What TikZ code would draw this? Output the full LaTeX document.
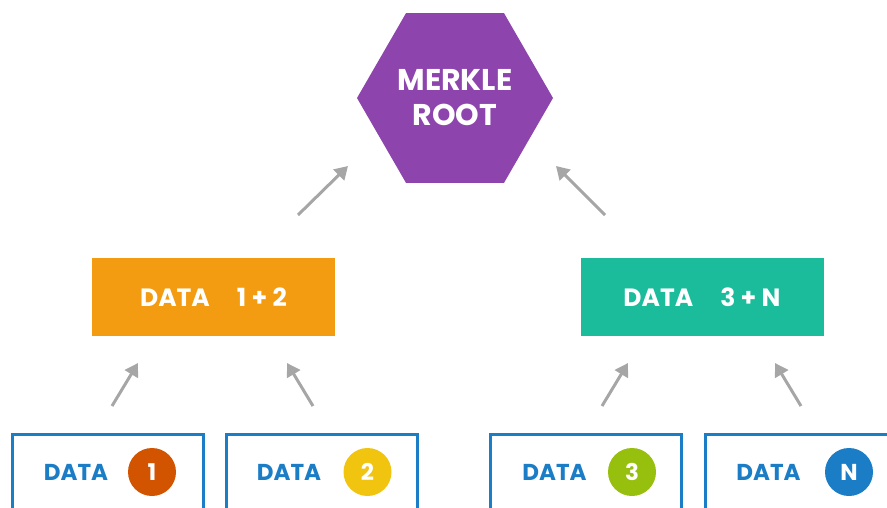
\documentclass[tikz,border=0pt]{standalone}
\usepackage{fontspec}
\setmainfont{Poppins}
\usetikzlibrary{shapes.geometric,arrows.meta}

\definecolor{rootpurple}{HTML}{8E44AD}
\definecolor{pairorange}{HTML}{F39C12}
\definecolor{pairteal}{HTML}{1ABC9C}
\definecolor{leafblue}{HTML}{1A7DC6}
\definecolor{onered}{HTML}{D35400}
\definecolor{twoyellow}{HTML}{F1C40F}
\definecolor{threegreen}{HTML}{97BF0D}
\definecolor{arrowgray}{HTML}{A6A6A6}

\begin{document}
\begin{tikzpicture}[x=1pt,y=-1pt,
        hashbox/.style={minimum width=243pt, minimum height=78pt, inner sep=0pt, text=white, font=\bfseries\fontsize{25}{30}\selectfont},
        leafbox/.style={draw=leafblue, line width=3pt, minimum width=191pt, minimum height=100pt},
        leaftext/.style={text=leafblue, inner sep=0pt, font=\bfseries\fontsize{23}{28}\selectfont},
        num/.style={circle, minimum size=48pt, inner sep=0pt, text=white, font=\bfseries\fontsize{23}{28}\selectfont},
        arr/.style={draw=arrowgray, line width=3pt, -{Triangle[length=13pt,width=15pt]}}]
        \clip (0,0) rectangle (887,507);

        % Root
        \node at (455,98) [regular polygon, regular polygon sides=6, minimum size=196pt, inner sep=0pt, fill=rootpurple, text=white, align=center, font=\bfseries\fontsize{30}{35}\selectfont] (R) {MERKLE\\ROOT};

        % Pairs
        \node at (213.5,297) [hashbox, fill=pairorange] (P12) {DATA\hspace{27pt}1 + 2};
        \node at (702,297) [hashbox, fill=pairteal] (P3N) {DATA\hspace{27pt}3 + N};

        % Leaves
        \node at (108,484.5) [leafbox] (L1) {};
        \node at (321.5,484.5) [leafbox] (L2) {};
        \node at (585.5,484.5) [leafbox] (L3) {};
        \node at (800.5,484.5) [leafbox] (L4) {};

        \node at (76,472) [leaftext] (T1) {DATA};
        \node at (289,472) [leaftext] (T2) {DATA};
        \node at (554.5,472) [leaftext] (T3) {DATA};
        \node at (768.5,472) [leaftext] (T4) {DATA};

        \node at (152,472) [num, fill=onered] (N1) {1};
        \node at (367.5,472) [num, fill=twoyellow] (N2) {2};
        \node at (632,472) [num, fill=threegreen] (N3) {3};
        \node at (849,472) [num, fill=leafblue] (N4) {N};

        % Arrow ends
        \coordinate (a1) at (112,406);  \coordinate (b1) at (138,363);
        \coordinate (a2) at (313,406);  \coordinate (b2) at (287,363);
        \coordinate (a3) at (602,406);  \coordinate (b3) at (628,363);
        \coordinate (a4) at (801,406);  \coordinate (b4) at (775,363);
        \coordinate (a5) at (298,215);  \coordinate (b5) at (348,166);
        \coordinate (a6) at (605,215);  \coordinate (b6) at (556,166);

        % Arrows
        \draw[arr] (a1) -- (b1);
        \draw[arr] (a2) -- (b2);
        \draw[arr] (a3) -- (b3);
        \draw[arr] (a4) -- (b4);
        \draw[arr] (a5) -- (b5);
        \draw[arr] (a6) -- (b6);

    \end{tikzpicture}
\end{document}
